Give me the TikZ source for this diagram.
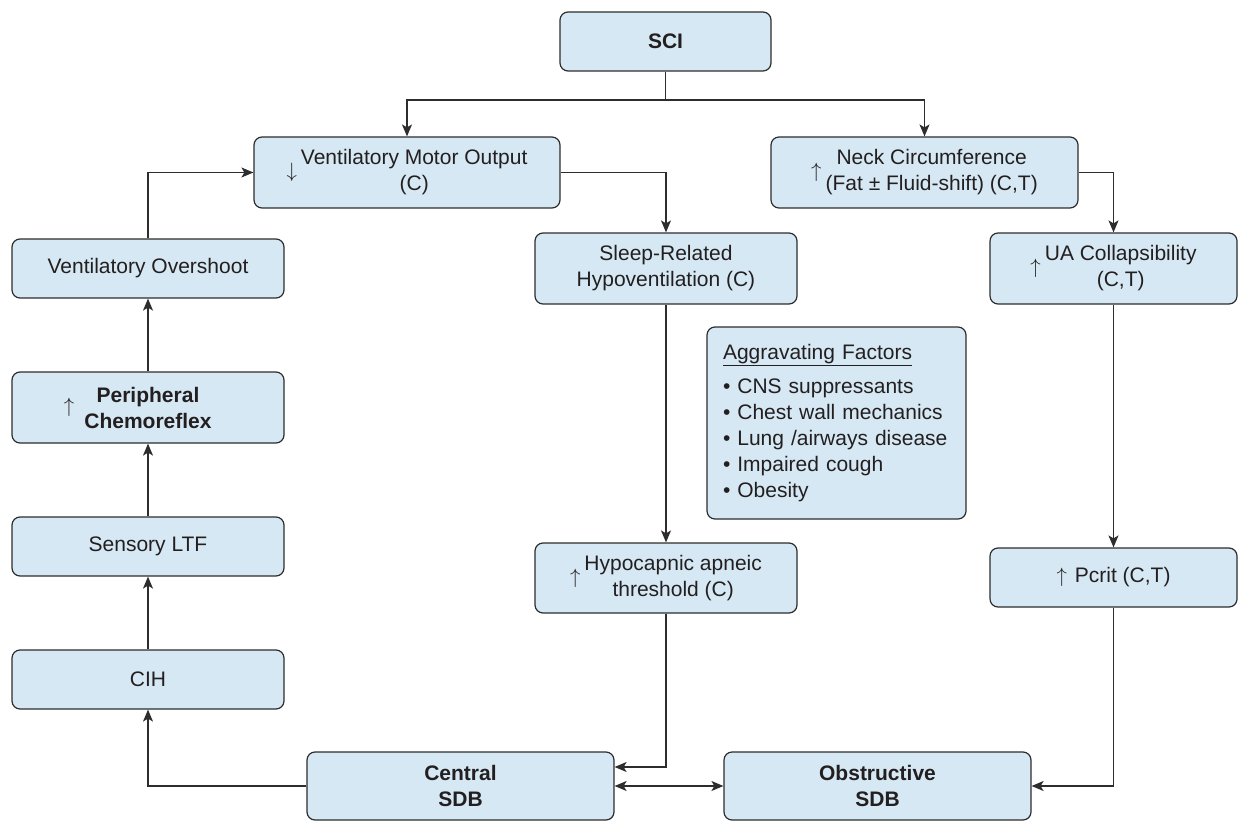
\documentclass[tikz,border=0pt]{standalone}
\usepackage{fontspec}
\setmainfont{Liberation Sans}
\usetikzlibrary{arrows.meta}
\definecolor{boxfill}{RGB}{214,232,243}
\definecolor{boxline}{RGB}{45,45,45}
\definecolor{txt}{RGB}{35,31,32}
\newcommand{\twol}[2]{\begin{tabular}{@{}c@{}}#1\\#2\end{tabular}}
\newcommand{\upa}{\begin{tabular}{@{}c@{}}$\uparrow$\end{tabular}\hspace{4pt}}
\newcommand{\dna}{\begin{tabular}{@{}c@{}}$\downarrow$\end{tabular}\hspace{4pt}}
\begin{document}
\begin{tikzpicture}[x=1pt,y=-1pt,
  box/.style={draw=boxline, fill=boxfill, line width=1.2pt, rounded corners=8pt,
    text=txt, align=center, inner sep=0pt, font=\fontsize{21}{26}\selectfont},
  boldbox/.style={box, font=\fontsize{21}{26}\selectfont\bfseries},
  conn/.style={draw=boxline, line width=1.3pt},
  arr/.style={conn, -{Stealth[length=12pt,width=10pt,inset=3pt]}},
  darr/.style={conn, {Stealth[length=12pt,width=10pt,inset=3pt]}-{Stealth[length=12pt,width=10pt,inset=3pt]}}]
\useasboundingbox (0,0) rectangle (1239,821);
% nodes
\node[boldbox, minimum width=211pt, minimum height=59pt] (sci) at (665.5,41.5) {SCI};
\node[box, minimum width=306pt, minimum height=71pt] (vm) at (407,172.5) {\dna\twol{Ventilatory Motor Output}{(C)}};
\node[box, minimum width=307pt, minimum height=71pt] (neck) at (924.5,172.5) {\upa\twol{Neck Circumference}{(Fat ± Fluid-shift) (C,T)}};
\node[box, minimum width=272pt, minimum height=59pt] (over) at (148,268.5) {Ventilatory Overshoot};
\node[box, minimum width=262pt, minimum height=71pt] (sleep) at (666,268.5) {\twol{Sleep-Related}{Hypoventilation (C)}};
\node[box, minimum width=247pt, minimum height=71pt] (ua) at (1113.5,268.5) {\upa\twol{UA Collapsibility}{(C,T)}};
\node[boldbox, minimum width=272pt, minimum height=71pt] (peri) at (148,407.5) {Peripheral\\Chemoreflex};
\node[text=txt, inner sep=0pt, font=\fontsize{21}{26}\selectfont] (periarr) at (69,407.5) {$\uparrow$};
\node[box, minimum width=259pt, minimum height=192pt, text width=227pt, align=left] (agg) at (836.5,423)
  {\underline{Aggravating Factors}\\[8pt]
   • CNS suppressants\\
   • Chest wall mechanics\\
   • Lung /airways disease\\
   • Impaired cough\\
   • Obesity};
\node[box, minimum width=272pt, minimum height=59pt] (sens) at (148,546.5) {Sensory LTF};
\node[box, minimum width=262pt, minimum height=70pt] (hypo) at (666,578) {\upa\twol{Hypocapnic apneic}{threshold (C)}};
\node[box, minimum width=247pt, minimum height=59pt] (pcrit) at (1113.5,577.5) {$\uparrow$\hspace{8pt}Pcrit (C,T)};
\node[box, minimum width=272pt, minimum height=59pt] (cih) at (148,679.5) {CIH};
\node[boldbox, minimum width=307pt, minimum height=68pt] (cent) at (460.5,786) {Central\\SDB};
\node[boldbox, minimum width=307pt, minimum height=68pt] (obst) at (877.5,786) {Obstructive\\SDB};
% connectors
\coordinate (split) at (665.5,100);
\draw[conn] (sci.south) -- (split);
\draw[arr] (split) -| (vm.north);
\draw[arr] (split) -| (neck.north);
\draw[arr] (vm.east) -| (sleep.north);
\draw[arr] (neck.east) -| (ua.north);
\draw[arr] (sleep.south) -- (hypo.north);
\draw[arr] (ua.south) -- (pcrit.north);
\draw[arr] (hypo.south) |- ([yshift=19pt]cent.east);
\draw[darr] (cent.east) -- (obst.west);
\draw[arr] (pcrit.south) |- (obst.east);
\draw[arr] (cent.west) -| (cih.south);
\draw[arr] (cih.north) -- (sens.south);
\draw[arr] (sens.north) -- (peri.south);
\draw[arr] (peri.north) -- (over.south);
\draw[arr] (over.north) |- (vm.west);
\end{tikzpicture}
\end{document}
